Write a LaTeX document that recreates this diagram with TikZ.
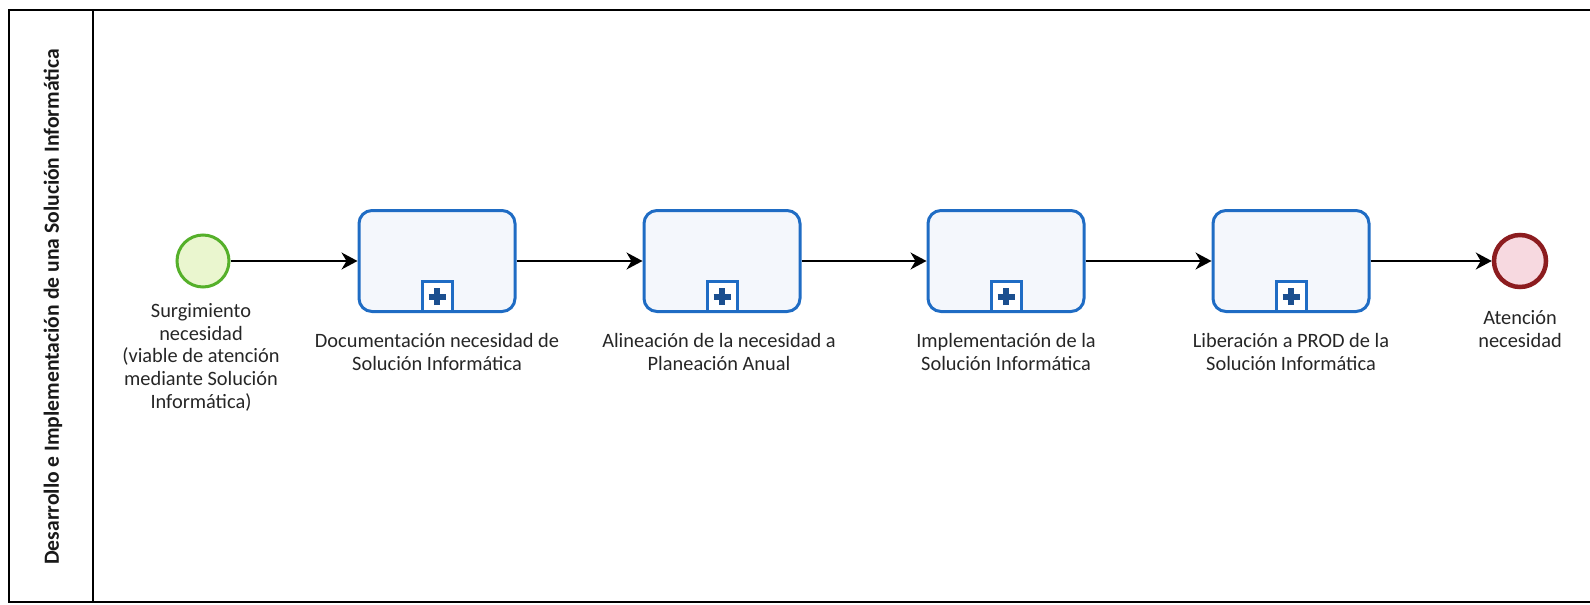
\documentclass[tikz,border=0pt]{standalone}
\usepackage{fontspec}
\setmainfont{Carlito}
\usetikzlibrary{arrows.meta}

\definecolor{evStartLine}{HTML}{55B02A}
\definecolor{evStartFill}{HTML}{EAF6CF}
\definecolor{evEndLine}{HTML}{8C1C1F}
\definecolor{evEndFill}{HTML}{F7D9E0}
\definecolor{taskLine}{HTML}{1F6CC4}
\definecolor{taskFill}{HTML}{F4F7FC}
\definecolor{markPlus}{HTML}{1B4F8F}

\tikzset{
	lbl/.style={align=center, text=black!85, font=\fontsize{11.6}{12.9}\selectfont, inner sep=0pt},
	subproc/.style={draw=taskLine, fill=taskFill, line width=0.6mm, rounded corners=2.6mm,
		minimum width=31.2mm, minimum height=20.2mm},
	marker/.style={draw=taskLine, fill=white, line width=0.6mm, minimum size=6mm, inner sep=0pt},
	evstart/.style={circle, draw=evStartLine, fill=evStartFill, line width=0.6mm, minimum size=10.4mm, inner sep=0pt},
	evend/.style={circle, draw=evEndLine, fill=evEndFill, line width=0.9mm, minimum size=10.4mm, inner sep=0pt},
	flow/.style={line width=0.3mm, -{Stealth[length=3.2mm, width=3.4mm, inset=1mm]}},
}

\newcommand{\submark}[1]{
	\node[marker, anchor=south] (#1m) at (#1.south) {};
	\draw[markPlus, line width=1.2mm] ([yshift=-1.7mm]#1m.center) -- ([yshift=1.7mm]#1m.center);
	\draw[markPlus, line width=1.2mm] ([xshift=-1.7mm]#1m.center) -- ([xshift=1.7mm]#1m.center);
}

\begin{document}
\begin{tikzpicture}[x=0.2mm, y=-0.2mm]
\useasboundingbox (0,0) rectangle (1590,604);

% pool and lane
\draw[line width=0.35mm] (9,10) rectangle (1620,602);
\draw[line width=0.35mm] (93,10) -- (93,602);
\node[rotate=90, text=black!90, font=\fontsize{12.3}{14}\selectfont\bfseries] (lane) at (53,307)
	{Desarrollo e Implementación de una Solución Informática};

% events and sub-processes
\node[evstart] (start) at (203,261) {};
\node[subproc] (doc) at (437,261) {};
\node[subproc] (ali) at (722,261) {};
\node[subproc] (imp) at (1006,261) {};
\node[subproc] (lib) at (1291,261) {};
\node[evend] (end) at (1520,261) {};

\submark{doc}
\submark{ali}
\submark{imp}
\submark{lib}

% labels
\node[lbl, anchor=north] (startlbl) at (201,303) {Surgimiento\\necesidad\\(viable de atención\\mediante Solución\\Informática)};
\node[lbl, anchor=north] (doclbl) at (437,333) {Documentación necesidad de\\Solución Informática};
\node[lbl, anchor=north] (alilbl) at (719,333) {Alineación de la necesidad a\\Planeación Anual};
\node[lbl, anchor=north] (implbl) at (1006,333) {Implementación de la\\Solución Informática};
\node[lbl, anchor=north] (liblbl) at (1291,333) {Liberación a PROD de la\\Solución Informática};
\node[lbl, anchor=north] (endlbl) at (1520,310) {Atención\\necesidad};

% sequence flows
\draw[flow] (start) -- (doc);
\draw[flow] (doc) -- (ali);
\draw[flow] (ali) -- (imp);
\draw[flow] (imp) -- (lib);
\draw[flow] (lib) -- (end);
\end{tikzpicture}
\end{document}
